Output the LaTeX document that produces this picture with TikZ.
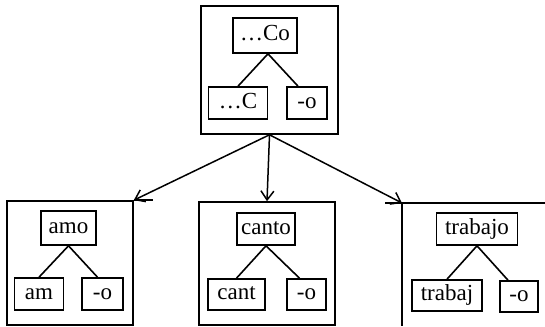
\documentclass[tikz,border=0pt]{standalone}
\usepackage{fontspec}
\setmainfont{Liberation Serif}
\usetikzlibrary{arrows.meta}
\begin{document}
\begin{tikzpicture}[x=1pt,y=-1pt,
  frame/.style={draw,line width=1.6pt,inner sep=0pt},
  wbox/.style={draw,line width=1.6pt,inner sep=0pt,font=\fontsize{23}{26}\selectfont,
    text height=15pt,text depth=5pt},
  link/.style={line width=1.6pt},
  arr/.style={line width=1.5pt,-{Straight Barb[length=9pt,width=13pt,line width=1.5pt]}}]
\useasboundingbox (0,0) rectangle (545,326);
% frames
\node[frame,minimum width=137pt,minimum height=128pt] (ft) at (269.5,70) {};
\node[frame,minimum width=126pt,minimum height=124pt] (fl) at (70,263) {};
\node[frame,minimum width=136pt,minimum height=123pt] (fm) at (267,263.5) {};
\coordinate (rc) at (402,203);
\coordinate (rtop) at (545,203);
\coordinate (rbot) at (402,326);
\coordinate (rext) at (385,203);
\draw[link] (rext) -- (rtop);
\draw[link] (rc) -- (rbot);
\draw[link] (fl.north east) -- ++(19,0);
% top tree
\node[wbox,minimum width=64pt,minimum height=35pt] (co) at (265,35.5) {…Co};
\node[wbox,minimum width=59pt,minimum height=32pt] (c) at (238,103) {…C};
\node[wbox,minimum width=40pt,minimum height=32pt] (o1) at (307,103) {-o};
\draw[link] ([xshift=3pt]co.south) -- (c.north);
\draw[link] ([xshift=3pt]co.south) -- ([xshift=-9pt]o1.north);
% left tree
\node[wbox,minimum width=55pt,minimum height=34pt] (amo) at (68.5,228) {amo};
\node[wbox,minimum width=49pt,minimum height=32pt] (am) at (39,294) {am};
\node[wbox,minimum width=41pt,minimum height=32pt] (o2) at (102.5,294) {-o};
\draw[link] (amo.south) -- (am.north);
\draw[link] (amo.south) -- ([xshift=-5pt]o2.north);
% middle tree
\node[wbox,minimum width=58pt,minimum height=32pt] (canto) at (266,229) {canto};
\node[wbox,minimum width=57pt,minimum height=31pt] (cant) at (236.5,294.5) {cant};
\node[wbox,minimum width=39pt,minimum height=31pt] (o3) at (306.5,294.5) {-o};
\draw[link] (canto.south) -- (cant.north);
\draw[link] (canto.south) -- ([xshift=-7pt]o3.north);
% right tree
\node[wbox,minimum width=81pt,minimum height=32pt] (trabajo) at (477,229) {trabajo};
\node[wbox,minimum width=70pt,minimum height=31pt] (trabaj) at (447,295.5) {trabaj};
\node[wbox,minimum width=38pt,minimum height=31pt] (o4) at (519,296.5) {-o};
\draw[link] (trabajo.south) -- (trabaj.north);
\draw[link] (trabajo.south) -- ([xshift=-11pt]o4.north);
% arrows
\draw[arr] (ft.south) -- (fl.north east);
\draw[arr] (ft.south) -- (fm.north);
\draw[arr] (ft.south) -- (rc);
\end{tikzpicture}
\end{document}
